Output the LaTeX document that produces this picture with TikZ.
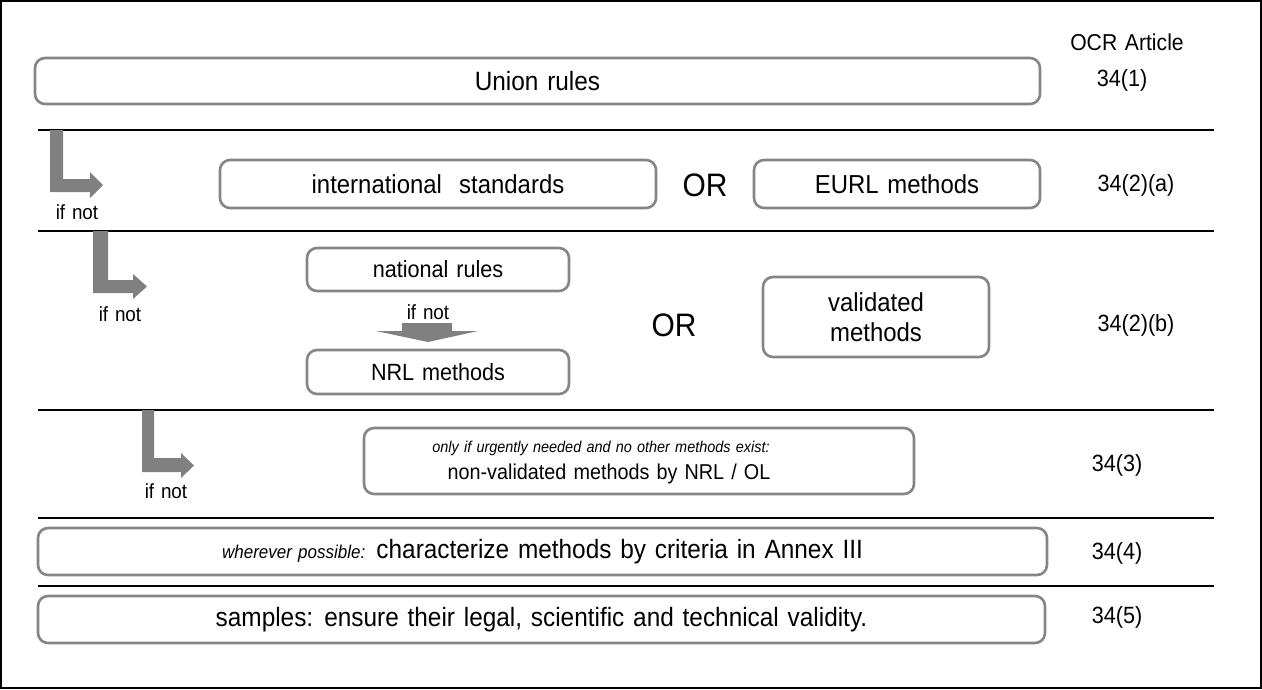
\documentclass[tikz,border=0pt]{standalone}
\usepackage{fontspec}
\setmainfont{Liberation Sans}[FakeStretch=0.92, WordSpace=1.3]
\definecolor{boxgray}{HTML}{858585}
\definecolor{arrgray}{HTML}{808080}
\newcommand{\fs}[1]{\fontsize{#1}{1.15\dimexpr#1pt\relax}\selectfont}
\tikzset{
  box/.style={draw=boxgray, line width=2.6pt, rounded corners=10pt, align=center, inner sep=0pt},
  sep/.style={draw=black, line width=1.6pt},
  lbl/.style={inner sep=0pt, anchor=center},
  bigarrow/.style={fill=arrgray, draw=none},
}
\begin{document}
\begin{tikzpicture}[x=1pt,y=-1pt]
\useasboundingbox (0,0) rectangle (1262,689);
\draw[black, line width=2pt] (1,1) rectangle (1261,688);

% column header
\node[lbl] (hdr) at (1127,42) {\fs{23}OCR Article};

% row 1
\node[box, minimum width=1005pt, minimum height=46pt, font=\fs{26.5}] (union) at (537.5,81) {Union rules};
\node[lbl] (a1) at (1122,80) {\fs{23.5}34(1)};
\coordinate (l1a) at (38,130); \coordinate (l1b) at (1214,130);
\draw[sep] (l1a) -- (l1b);

% row 2
\fill[bigarrow] (50,130) -- (63,130) -- (63,179) -- (90,179) -- (90,172) -- (103,185) -- (90,198) -- (90,192) -- (50,192) -- cycle;
\node[lbl] (if1) at (77,212) {\fs{20.5}if not};
\node[box, minimum width=436pt, minimum height=48pt, font=\fs{26}] (intl) at (438,184) {international\ \ standards};
\node[lbl] (or1) at (705,185) {\fs{32.5}OR};
\node[box, minimum width=286pt, minimum height=48pt, font=\fs{26}] (eurl) at (897,184) {EURL methods};
\node[lbl] (a2) at (1136,185) {\fs{23.5}34(2)(a)};
\coordinate (l2a) at (38,231); \coordinate (l2b) at (1214,231);
\draw[sep] (l2a) -- (l2b);

% row 3
\fill[bigarrow] (93,231) -- (108,231) -- (108,280) -- (133,280) -- (133,274) -- (147,286.5) -- (133,299) -- (133,293) -- (93,293) -- cycle;
\node[lbl] (if2) at (120,314) {\fs{20.5}if not};
\node[box, minimum width=262pt, minimum height=43pt, font=\fs{23.5}] (natl) at (438,269.5) {national rules};
\node[lbl] (if3) at (428,312) {\fs{20.5}if not};
\node[box, minimum width=262pt, minimum height=44pt, font=\fs{23.5}] (nrl) at (438,372) {NRL methods};
\fill[bigarrow] (402,323) -- (452,323) -- (452,331) -- (478,331) -- (428,342) -- (376,331) -- (402,331) -- cycle;
\node[lbl] (or2) at (674,325) {\fs{32.5}OR};
\node[box, minimum width=226pt, minimum height=80pt, font=\fs{26}] (valid) at (876,317) {validated\\methods};
\node[lbl] (a3) at (1136,325) {\fs{23.5}34(2)(b)};
\coordinate (l3a) at (38,410); \coordinate (l3b) at (1214,410);
\draw[sep] (l3a) -- (l3b);

% row 4
\fill[bigarrow] (142,410) -- (154,410) -- (154,458) -- (181,458) -- (181,453) -- (194,465.5) -- (181,478) -- (181,472) -- (142,472) -- cycle;
\node[lbl] (if4) at (166,491) {\fs{20.5}if not};
\node[box, minimum width=550pt, minimum height=66pt] (nonval) at (639,461) {};
\node[lbl] (it1) at (601,448) {\fs{15.7}\itshape only if urgently needed and no other methods exist:};
\node[lbl] (nv) at (609,474) {\fs{21.5}non-validated methods by NRL / OL};
\node[lbl] (a4) at (1117,465) {\fs{23.5}34(3)};
\coordinate (l4a) at (38,518); \coordinate (l4b) at (1214,518);
\draw[sep] (l4a) -- (l4b);

% row 5
\node[box, minimum width=1009pt, minimum height=47pt] (charb) at (542.5,551.5) {\fs{18.5}\itshape wherever possible:\upshape\fs{26.5} characterize\ methods\ by\ criteria\ in\ Annex\ III};
\node[lbl] (a5) at (1117,553) {\fs{23.5}34(4)};
\coordinate (l5a) at (38,586); \coordinate (l5b) at (1214,586);
\draw[sep] (l5a) -- (l5b);

% row 6
\node[box, minimum width=1007pt, minimum height=47pt, font=\fs{26.5}] (samp) at (541.5,619.5) {samples: ensure their legal, scientific and technical validity.};
\node[lbl] (a6) at (1117,617) {\fs{23.5}34(5)};
\end{tikzpicture}
\end{document}
